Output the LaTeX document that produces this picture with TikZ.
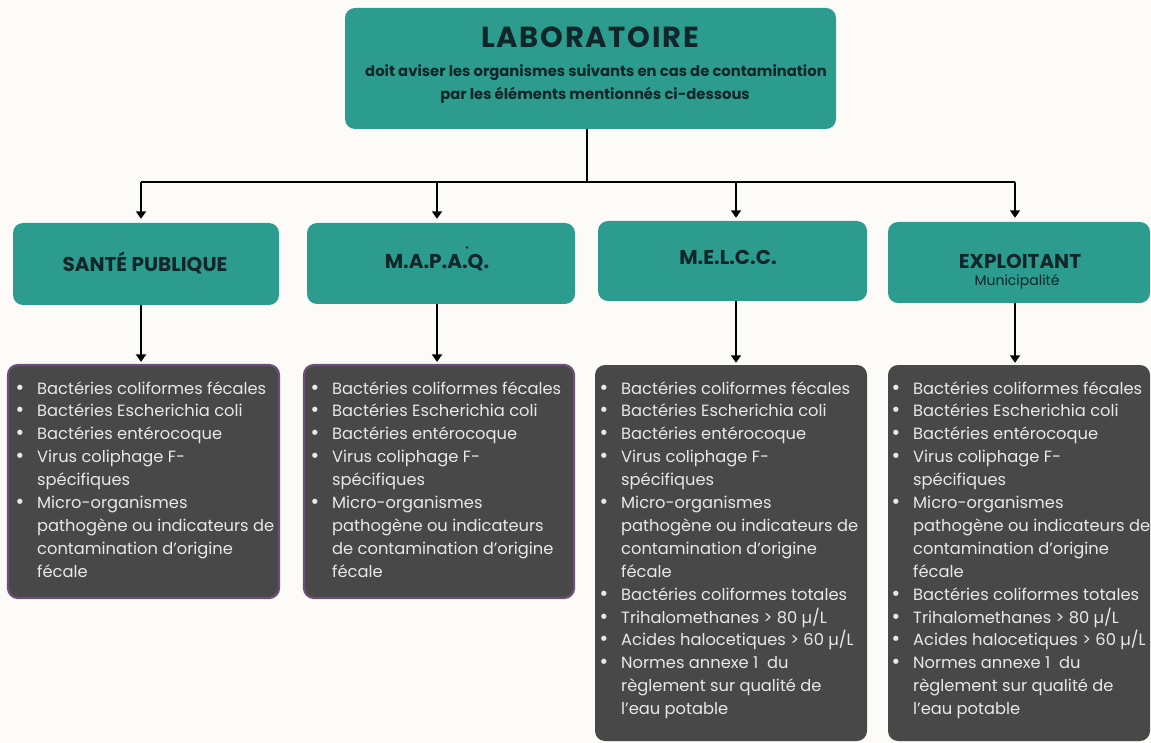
\documentclass[tikz,border=0pt]{standalone}
\usepackage{fontspec}
\setmainfont{Poppins}
\newfontfamily\bulfont{DejaVu Sans}
\usetikzlibrary{arrows.meta}
\definecolor{bgc}{HTML}{FDFBF8}
\definecolor{teal1}{HTML}{2B9C8E}
\definecolor{darkbox}{HTML}{484848}
\definecolor{purp}{HTML}{6B4F7A}
\definecolor{headtxt}{HTML}{10262A}
\definecolor{bodytxt}{HTML}{E8E8E8}
\tikzset{
  tealbox/.style={rectangle, rounded corners=10pt, fill=teal1, inner sep=0pt},
  darkbx/.style={rectangle, rounded corners=10pt, fill=darkbox, inner sep=0pt},
  purpbx/.style={darkbx, draw=purp, line width=2.2pt},
  headlbl/.style={inner sep=0pt, text=headtxt, font=\bfseries\fontsize{20}{22}\selectfont},
  bodyline/.style={anchor=base west, inner sep=0pt, text=bodytxt, font=\fontsize{16.3}{19}\selectfont},
  conn/.style={draw=black, line width=1.8pt},
  arr/.style={conn, -{Triangle[width=10pt,length=7.5pt]}},
}
\newcommand\bulline[4]{\node[bodyline] (#1) at (#2,{394+22.9*#3}) {\llap{{\bulfont\fontsize{18}{18}\selectfont •}\hspace{12pt}}#4};}
\newcommand\contline[4]{\node[bodyline] (#1) at (#2,{394+22.9*#3}) {#4};}
\begin{document}
\begin{tikzpicture}[x=1pt,y=-1pt]
\useasboundingbox (0,0) rectangle (1151,743);
\fill[bgc] (0,0) rectangle (1151,743);

% top box
\node[tealbox, minimum width=491pt, minimum height=121pt] (top) at (590.5,68.5) {};
\node[inner sep=0pt, text=headtxt, font=\bfseries\fontsize{29}{30}\selectfont\addfontfeature{LetterSpace=6}] (title) at (590,37) {LABORATOIRE};
\node[inner sep=0pt, text=headtxt, font=\bfseries\fontsize{14.8}{16}\selectfont] (sub1) at (596,73) {doit aviser les organismes suivants en cas de contamination};
\node[inner sep=0pt, text=headtxt, font=\bfseries\fontsize{14.8}{16}\selectfont] (sub2) at (595,95) {par les éléments mentionnés ci-dessous};

% second row
\node[tealbox, minimum width=266pt, minimum height=82pt] (sp) at (146,264) {};
\node[tealbox, minimum width=268pt, minimum height=81pt] (mapaq) at (441,263.5) {};
\node[tealbox, minimum width=269pt, minimum height=80pt] (melcc) at (732.5,261) {};
\node[tealbox, minimum width=262pt, minimum height=81pt] (expl) at (1019,262.5) {};

\node[headlbl] (spl) at (145,263) {SANTÉ PUBLIQUE};
\node[headlbl] (mapaql) at (437,263) {M.A.P.A.Q.};
\fill[headtxt] (467,247.5) circle (1.3pt);
\node[headlbl] (melccl) at (728,257) {M.E.L.C.C.};
\node[headlbl] (expll) at (1020,261) {EXPLOITANT};
\node[inner sep=0pt, text=headtxt, font=\fontsize{14}{16}\selectfont] (muni) at (1017,282) {Municipalité};

% dark boxes
\node[purpbx, minimum width=271pt, minimum height=233pt] (d1) at (143.5,481.5) {};
\node[purpbx, minimum width=270pt, minimum height=233pt] (d2) at (439,481.5) {};
\node[darkbx, minimum width=272pt, minimum height=376pt] (d3) at (731,553) {};
\node[darkbx, minimum width=262pt, minimum height=376pt] (d4) at (1019,553) {};

% connectors
\coordinate (trunk) at (587,182);
\coordinate (bl) at (141,182);
\coordinate (b2) at (437,182);
\coordinate (b3) at (736,182);
\coordinate (br) at (1015,182);
\draw[conn] (top.south -| trunk) -- (trunk);
\draw[conn] (bl) -- (br);
\draw[arr, shorten >=4pt] (bl) -- (bl |- sp.north);
\draw[arr, shorten >=4pt] (b2) -- (b2 |- mapaq.north);
\draw[arr, shorten >=3pt] (b3) -- (b3 |- melcc.north);
\draw[arr, shorten >=4pt] (br) -- (br |- expl.north);
\draw[arr, shorten >=2pt] (bl |- sp.south) -- (bl |- d1.north);
\draw[arr, shorten >=2pt] (b2 |- mapaq.south) -- (b2 |- d2.north);
\draw[arr, shorten >=2pt] (b3 |- melcc.south) -- (b3 |- d3.north);
\draw[arr, shorten >=2pt] (br |- expl.south) -- (br |- d4.north);

% box 1 text
\bulline{a0}{37}{0}{Bactéries coliformes fécales}
\bulline{a1}{37}{1}{Bactéries Escherichia coli}
\bulline{a2}{37}{2}{Bactéries entérocoque}
\bulline{a3}{37}{3}{Virus coliphage F-}
\contline{a4}{37}{4}{spécifiques}
\bulline{a5}{37}{5}{Micro-organismes}
\contline{a6}{37}{6}{pathogène ou indicateurs de}
\contline{a7}{37}{7}{contamination d’origine}
\contline{a8}{37}{8}{fécale}

% box 2 text
\bulline{b0}{332}{0}{Bactéries coliformes fécales}
\bulline{b1}{332}{1}{Bactéries Escherichia coli}
\bulline{b2t}{332}{2}{Bactéries entérocoque}
\bulline{b3t}{332}{3}{Virus coliphage F-}
\contline{b4}{332}{4}{spécifiques}
\bulline{b5}{332}{5}{Micro-organismes}
\contline{b6}{332}{6}{pathogène ou indicateurs}
\contline{b7}{332}{7}{de contamination d’origine}
\contline{b8}{332}{8}{fécale}

% box 3 text
\bulline{c0}{621}{0}{Bactéries coliformes fécales}
\bulline{c1}{621}{1}{Bactéries Escherichia coli}
\bulline{c2}{621}{2}{Bactéries entérocoque}
\bulline{c3}{621}{3}{Virus coliphage F-}
\contline{c4}{621}{4}{spécifiques}
\bulline{c5}{621}{5}{Micro-organismes}
\contline{c6}{621}{6}{pathogène ou indicateurs de}
\contline{c7}{621}{7}{contamination d’origine}
\contline{c8}{621}{8}{fécale}
\bulline{c9}{621}{9}{Bactéries coliformes totales}
\bulline{c10}{621}{10}{Trihalomethanes > 80 µ/L}
\bulline{c11}{621}{11}{Acides halocetiques > 60 µ/L}
\bulline{c12}{621}{12}{Normes annexe 1~ du}
\contline{c13}{621}{13}{règlement sur qualité de}
\contline{c14}{621}{14}{l’eau potable}

% box 4 text
\bulline{e0}{913}{0}{Bactéries coliformes fécales}
\bulline{e1}{913}{1}{Bactéries Escherichia coli}
\bulline{e2}{913}{2}{Bactéries entérocoque}
\bulline{e3}{913}{3}{Virus coliphage F-}
\contline{e4}{913}{4}{spécifiques}
\bulline{e5}{913}{5}{Micro-organismes}
\contline{e6}{913}{6}{pathogène ou indicateurs de}
\contline{e7}{913}{7}{contamination d’origine}
\contline{e8}{913}{8}{fécale}
\bulline{e9}{913}{9}{Bactéries coliformes totales}
\bulline{e10}{913}{10}{Trihalomethanes > 80 µ/L}
\bulline{e11}{913}{11}{Acides halocetiques > 60 µ/L}
\bulline{e12}{913}{12}{Normes annexe 1~ du}
\contline{e13}{913}{13}{règlement sur qualité de}
\contline{e14}{913}{14}{l’eau potable}
\end{tikzpicture}
\end{document}
